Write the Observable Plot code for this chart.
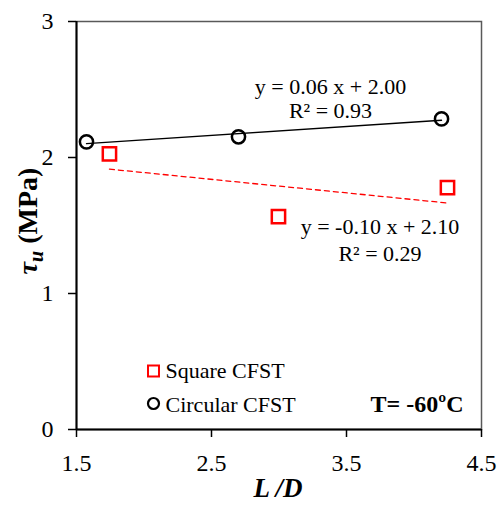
<!DOCTYPE html>
<html><head><meta charset="utf-8">
<script src="https://cdn.jsdelivr.net/npm/d3@7"></script>
<script src="https://cdn.jsdelivr.net/npm/@observablehq/plot@0.6"></script>
<style>body{margin:0;background:#fff}</style>
</head><body><div id="chart"></div>
<script>
const squareLD = [1.744, 2.996, 4.248];
const squareTau = [2.027, 1.565, 1.778];
const circularLD = [1.574, 2.700, 4.204];
const circularTau = [2.115, 2.152, 2.284];
const xTicks = [1.5, 2.5, 3.5, 4.5];
const yTicks = [0, 1, 2, 3];
const seriesNames = ["Square CFST", "Circular CFST"];
const eqSquare = ["y = -0.10 x + 2.10", "R² = 0.29"];
const eqCircular = ["y = 0.06 x + 2.00", "R² = 0.93"];
const tempLabel = ["T= -60ºC"];

const square = squareLD.map((x, i) => ({x, y: squareTau[i]}));
const circular = circularLD.map((x, i) => ({x, y: circularTau[i]}));
const serif = "'Liberation Serif', 'Times New Roman', serif";

const plot = Plot.plot({
  width: 503, height: 506,
  marginLeft: 76, marginRight: 22, marginTop: 21, marginBottom: 77,
  style: {fontFamily: serif, fontSize: "22px", background: "#fff", color: "#000"},
  x: {domain: [1.5, 4.5]},
  y: {domain: [0, 3]},
  marks: [
    Plot.frame({stroke: "#595959", strokeWidth: 1.5}),
    Plot.axisX({ticks: xTicks, tickSize: 8, tickPadding: 16, label: null, tickFormat: d3.format(".1f"), fontSize: 24, strokeWidth: 1.5}),
    Plot.axisY({ticks: yTicks, tickSize: 8, tickPadding: 15, label: null, tickFormat: d3.format("d"), fontSize: 24, strokeWidth: 1.5}),
    Plot.ruleY([0], {stroke: "#000", strokeWidth: 2}),
    Plot.ruleX([1.5], {stroke: "#000", strokeWidth: 2}),
    Plot.linearRegressionY(circular, {x: "x", y: "y", stroke: "#000", strokeWidth: 1.3, ci: 0}),
    Plot.linearRegressionY(square, {x: "x", y: "y", stroke: "#ff0000", strokeWidth: 1.3, strokeDasharray: "5,4", ci: 0}),
    Plot.dot(circular, {x: "x", y: "y", r: 6.6, stroke: "#000", strokeWidth: 2.5, fill: "none"}),
    Plot.dot(square, {x: "x", y: "y", symbol: "square", r: 7.5, stroke: "#ff0000", strokeWidth: 2.5, fill: "none"}),
    // equations
    Plot.text([eqCircular[0]], {frameAnchor: "top-left", dx: 254, dy: 65.3, textAnchor: "middle", lineAnchor: "middle", fontSize: 22}),
    Plot.text([eqCircular[1]], {frameAnchor: "top-left", dx: 254, dy: 89.3, textAnchor: "middle", lineAnchor: "middle", fontSize: 22}),
    Plot.text([eqSquare[0]], {frameAnchor: "top-left", dx: 303.5, dy: 205, textAnchor: "middle", lineAnchor: "middle", fontSize: 22}),
    Plot.text([eqSquare[1]], {frameAnchor: "top-left", dx: 303.5, dy: 232, textAnchor: "middle", lineAnchor: "middle", fontSize: 22}),
    // legend
    Plot.dot([seriesNames[0]], {frameAnchor: "bottom-left", dx: 77, dy: -58.5, symbol: "square", r: 6.2, stroke: "#ff0000", strokeWidth: 2, fill: "none"}),
    Plot.dot([seriesNames[1]], {frameAnchor: "bottom-left", dx: 77, dy: -26, r: 5.5, stroke: "#000", strokeWidth: 2.2, fill: "none"}),
    Plot.text([seriesNames[0]], {text: d => d, frameAnchor: "bottom-left", dx: 89, dy: -59, textAnchor: "start", lineAnchor: "middle", fontSize: 22}),
    Plot.text([seriesNames[1]], {text: d => d, frameAnchor: "bottom-left", dx: 89, dy: -25, textAnchor: "start", lineAnchor: "middle", fontSize: 22}),
    Plot.text(tempLabel, {text: d => d, frameAnchor: "bottom-right", dx: -18, dy: -25, textAnchor: "end", lineAnchor: "middle", fontSize: 24, fontWeight: "bold"})
  ]
});

const svg = d3.select(plot);
// y-axis title
const yt = svg.append("text")
  .attr("transform", "translate(37,221) rotate(-90)")
  .attr("text-anchor", "middle")
  .attr("font-family", serif)
  .attr("font-weight", "bold")
  .attr("font-size", 28)
  .attr("fill", "#000");
yt.append("tspan").attr("font-style", "italic").text("τ");
yt.append("tspan").attr("font-style", "italic").attr("font-size", 20).attr("dy", 6).text("u");
yt.append("tspan").attr("dy", -6).text(" (MPa)");
// x-axis title
svg.append("text")
  .attr("x", 278).attr("y", 497)
  .attr("text-anchor", "middle")
  .attr("font-family", serif)
  .attr("font-weight", "bold")
  .attr("font-style", "italic")
  .attr("font-size", 27)
  .attr("fill", "#000")
  .text("L /D");

document.getElementById("chart").appendChild(plot);
</script>
</body></html>
